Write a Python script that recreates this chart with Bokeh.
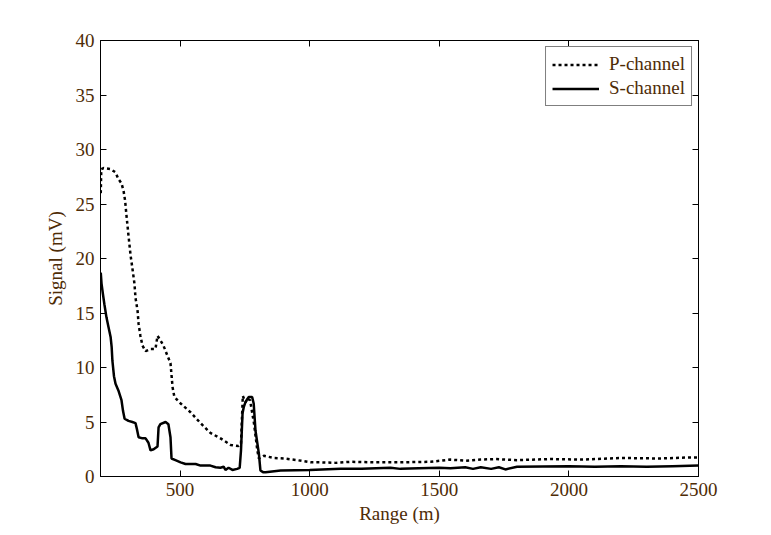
from bokeh.plotting import figure
from bokeh.models import Range1d, FixedTicker, LinearAxis, Legend, LegendItem
from bokeh.embed import file_html
from bokeh.resources import INLINE

# ---- data ----
p_range = [194, 196, 205, 232, 251, 262, 274, 282, 288, 293, 301, 309, 316, 324, 328,
           336, 340, 347, 355, 367, 386, 405, 413, 424, 436, 451, 463, 471, 478, 502,
           540, 579, 617, 656, 695, 725, 735, 742, 752, 760, 770, 785, 798, 804, 823,
           862, 900, 952, 1003, 1042, 1100, 1158, 1250, 1350, 1466, 1543, 1600, 1659,
           1717, 1800, 1929, 2050, 2200, 2350, 2469, 2500]
p_signal = [26.0, 28.2, 28.3, 28.2, 27.9, 27.3, 26.9, 26.2, 25.3, 24.0, 22.1, 20.3, 19.1,
            17.7, 16.4, 15.2, 14.0, 12.9, 12.0, 11.5, 11.7, 11.7, 12.9, 12.5, 12.0, 11.1,
            10.4, 8.2, 7.3, 6.7, 5.9, 4.9, 4.0, 3.5, 2.9, 2.8, 3.0, 7.4, 6.8, 7.15, 7.0,
            4.9, 2.4, 1.65, 1.9, 1.7, 1.65, 1.5, 1.3, 1.3, 1.25, 1.35, 1.3, 1.3, 1.35,
            1.55, 1.45, 1.55, 1.6, 1.5, 1.6, 1.55, 1.7, 1.65, 1.75, 1.75]

s_range = [194, 197, 202, 208, 216, 224, 232, 236, 239, 245, 251, 262, 270, 274, 280,
           286, 301, 316, 328, 334, 340, 355, 367, 378, 386, 398, 413, 417, 424, 444,
           455, 463, 467, 482, 502, 521, 560, 579, 617, 637, 656, 668, 675, 687, 702,
           720, 730, 735, 741, 746, 752, 759, 765, 778, 784, 791, 804, 810, 820, 830,
           888, 1000, 1119, 1200, 1312, 1350, 1420, 1500, 1543, 1600, 1630, 1660, 1700,
           1730, 1755, 1800, 2000, 2100, 2200, 2300, 2400, 2500]
s_signal = [18.7, 17.7, 16.8, 15.8, 14.6, 13.7, 12.8, 11.9, 10.6, 9.2, 8.5, 7.9, 7.3, 7.0,
            6.0, 5.3, 5.1, 5.0, 4.9, 4.3, 3.6, 3.5, 3.5, 3.1, 2.4, 2.5, 2.75, 4.5, 4.8,
            5.0, 4.8, 3.6, 1.65, 1.5, 1.3, 1.15, 1.15, 1.0, 1.0, 0.85, 0.8, 0.9, 0.6, 0.8,
            0.6, 0.7, 0.8, 2.4, 5.8, 6.4, 6.8, 7.1, 7.3, 7.3, 6.7, 4.2, 2.1, 0.55, 0.4, 0.4,
            0.55, 0.6, 0.7, 0.7, 0.8, 0.7, 0.75, 0.8, 0.75, 0.85, 0.7, 0.85, 0.7, 0.85,
            0.65, 0.9, 0.95, 0.9, 0.95, 0.9, 0.95, 1.0]

x_ticks = [500, 1000, 1500, 2000, 2500]
y_ticks = [0, 5, 10, 15, 20, 25, 30, 35, 40]
x_title = "Range (m)"
y_title = "Signal (mV)"
series_names = ["P-channel", "S-channel"]

FONT = "Liberation Serif"
TXT = "#4e2c06"

p = figure(frame_width=598, frame_height=436, output_backend="svg", toolbar_location=None,
           x_range=Range1d(193, 2500), y_range=Range1d(0, 40),
           min_border_left=100, min_border_right=73, min_border_top=40, min_border_bottom=59)
p.background_fill_color = "white"
p.border_fill_color = "white"
p.outline_line_color = "black"
p.outline_line_width = 1
p.grid.visible = False

r_p = p.line(p_range, p_signal, line_color="black", line_width=2.5, line_dash="3 3")
r_s = p.line(s_range, s_signal, line_color="black", line_width=2.5)

def style_axis(ax, ticks, labels=True):
    ax.ticker = FixedTicker(ticks=ticks)
    ax.axis_line_color = "black"
    ax.major_tick_line_color = "black"
    ax.major_tick_in = 6
    ax.major_tick_out = 0
    ax.minor_tick_line_color = None
    ax.major_label_text_font = FONT
    ax.major_label_text_font_size = "19px"
    ax.major_label_text_color = TXT if labels else None
    ax.axis_label_text_font = FONT
    ax.axis_label_text_font_size = "19px"
    ax.axis_label_text_font_style = "normal"
    ax.axis_label_text_color = TXT

style_axis(p.xaxis[0], x_ticks)
style_axis(p.yaxis[0], y_ticks)
p.xaxis[0].axis_label = x_title
p.yaxis[0].axis_label = y_title
p.xaxis[0].major_label_standoff = 6
p.yaxis[0].major_label_standoff = 6
p.xaxis[0].axis_label_standoff = 4
p.yaxis[0].axis_label_standoff = 7

top = LinearAxis()
style_axis(top, x_ticks, labels=False)
p.add_layout(top, "above")
right = LinearAxis()
style_axis(right, y_ticks, labels=False)
p.add_layout(right, "right")

legend = Legend(items=[LegendItem(label=series_names[0], renderers=[r_p]),
                       LegendItem(label=series_names[1], renderers=[r_s])],
                location="top_right")
legend.label_text_font = FONT
legend.label_text_font_size = "19px"
legend.label_text_color = TXT
legend.border_line_color = "black"
legend.border_line_width = 1
legend.background_fill_color = "white"
legend.background_fill_alpha = 1
legend.padding = 6
legend.spacing = 2
legend.margin = 6
legend.label_height = 21
legend.glyph_height = 21
legend.glyph_width = 47
legend.label_standoff = 10
p.add_layout(legend, "center")

open("out.html", "w").write(file_html(p, INLINE))
